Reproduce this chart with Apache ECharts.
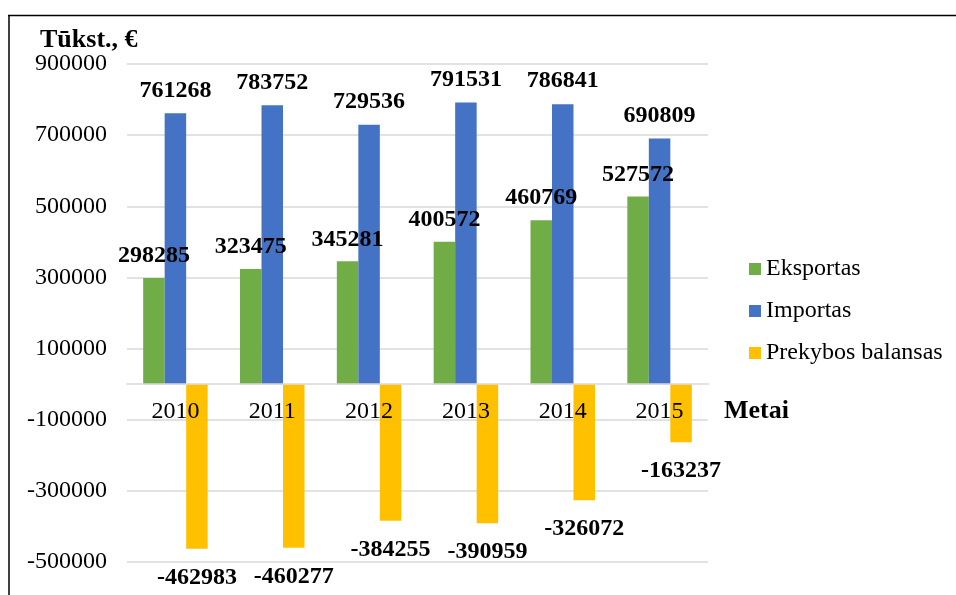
<!DOCTYPE html>
<html>
<head>
<meta charset="utf-8">
<script src="https://cdn.jsdelivr.net/npm/echarts@6/dist/echarts.min.js"></script>
<style>html,body{margin:0;padding:0;background:#fff}#c{width:956px;height:595px}</style>
</head>
<body>
<div id="c"></div>
<script>
var years = ['2010', '2011', '2012', '2013', '2014', '2015'];
var eksportas = [298285, 323475, 345281, 400572, 460769, 527572];
var importas = [761268, 783752, 729536, 791531, 786841, 690809];
var balansas = [-462983, -460277, -384255, -390959, -326072, -163237];
var seriesNames = ['Eksportas', 'Importas', 'Prekybos balansas'];
var yMin = -500000, yMax = 900000, yStep = 200000;

var FONT = '"Liberation Serif", "Times New Roman", serif';
var GRID = { left: 127, right: 248, top: 64, bottom: 33 };
var gridH = 595 - GRID.top - GRID.bottom;
// move the category axis (line + labels) up to the zero level
var zeroOffset = -gridH * (0 - yMin) / (yMax - yMin);

var chart = echarts.init(document.getElementById('c'));

function barSeries(name, data, color, pos, dist) {
  return {
    name: name, type: 'bar', data: data,
    barWidth: 21.5, barGap: '0%',
    itemStyle: { color: color },
    label: {
      show: true, position: pos, distance: dist,
      fontFamily: FONT, fontSize: 24, fontWeight: 'bold', color: '#000',
      formatter: function (p) { return String(p.value); }
    }
  };
}

chart.setOption({
  animation: false,
  title: {
    text: 'Tūkst., €', left: 35, top: 22,
    textStyle: { fontFamily: FONT, fontSize: 26, fontWeight: 'bold', color: '#000' }
  },
  legend: {
    orient: 'vertical', left: 749, top: 257, padding: 0,
    icon: 'rect', itemWidth: 12, itemHeight: 12, itemGap: 18,
    textStyle: { fontFamily: FONT, fontSize: 24, color: '#000' },
    data: seriesNames
  },
  grid: { left: GRID.left, right: GRID.right, top: GRID.top, bottom: GRID.bottom, outerBoundsMode: 'none' },
  xAxis: {
    type: 'category', data: years,
    offset: zeroOffset, z: 5,
    axisTick: { show: false },
    axisLine: { onZero: false, lineStyle: { color: '#d9d9d9', width: 1.5 } },
    axisLabel: { fontFamily: FONT, fontSize: 24, color: '#000', margin: 16 },
    name: 'Metai', nameLocation: 'end', nameGap: 16,
    nameTextStyle: { fontFamily: FONT, fontSize: 26, fontWeight: 'bold', color: '#000',
      verticalAlign: 'top', padding: [14, 0, 0, 0] }
  },
  yAxis: {
    type: 'value', min: yMin, max: yMax, interval: yStep,
    axisLine: { show: false }, axisTick: { show: false },
    splitLine: { lineStyle: { color: '#d9d9d9', width: 1.5 } },
    axisLabel: { fontFamily: FONT, fontSize: 24, color: '#000', margin: 20,
      formatter: function (v) { return String(v); } }
  },
  graphic: [
    { type: 'line', shape: { x1: 8, y1: 15.5, x2: 956, y2: 15.5 }, style: { stroke: '#000', lineWidth: 1.5 } },
    { type: 'line', shape: { x1: 9, y1: 15, x2: 9, y2: 595 }, style: { stroke: '#000', lineWidth: 1.5 } }
  ],
  series: [
    barSeries(seriesNames[0], eksportas, '#70AD47', 'top', 10),
    barSeries(seriesNames[1], importas, '#4472C4', 'top', 11),
    barSeries(seriesNames[2], balansas, '#FFC000', 'bottom', 17)
  ]
});
</script>
</body>
</html>
